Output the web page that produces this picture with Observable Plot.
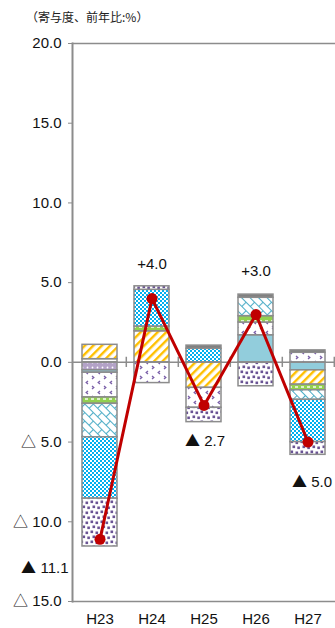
<!DOCTYPE html>
<html><head><meta charset="utf-8">
<script src="https://cdn.jsdelivr.net/npm/d3@7"></script>
<script src="https://cdn.jsdelivr.net/npm/@observablehq/plot@0.6"></script>
<style>
@font-face{font-family:"TriCJK";src:local("Noto Sans CJK JP"),local("Noto Sans CJK JP Regular"),local("NotoSansCJKjp-Regular"),local("NotoSansCJKJP-Regular");unicode-range:U+25B2-25B3;}
body{margin:0;background:#fff;}
#title{height:30px;box-sizing:border-box;padding:10px 0 0 26px;font-size:12px;line-height:14px;font-family:"Noto Sans CJK JP",sans-serif;color:#222;white-space:nowrap}
</style></head><body>
<div id="title">（寄与度、前年比:%）</div>
<div id="chart"></div>
<script>
// ---- data ----
const years = ["H23", "H24", "H25", "H26", "H27"];
// stacked contributions, in stacking order
const pinkDots     = [0.2,   0,    0,     0,    0];
const lavender     = [-0.5,  0,    0,     0,    0];
const lightBlue    = [-0.15, 0,    0,     1.7, -0.5];
const yellowStripe = [0.9,   1.95, -1.6,  0,   -0.9];
const chevrons     = [-1.55, -1.3, -1.25, 0.8,  0.6];
const greenDash    = [-0.4,  0.3,  0,     0.4, -0.35];
const tealBrick    = [-2.1,  0,    0,     1.15,-0.6];
const cyanCheck    = [-3.85, 2.3,  0.85,  0,   -2.65];
const purpleSquare = [-3.0,  0.22, -0.9, -1.5, -0.8];
const graySolid    = [0,     0,    0.2,   0.2,  0.15];
const totals = [-11.1, 4.0, -2.7, 3.0, -5.0];
const yTicks = [20, 15, 10, 5, 0, -5, -10, -15];

const seriesList = [
  ["pink", pinkDots], ["lavender", lavender], ["lightBlue", lightBlue],
  ["yellow", yellowStripe], ["chevron", chevrons], ["green", greenDash],
  ["teal", tealBrick], ["cyan", cyanCheck], ["purple", purpleSquare], ["gray", graySolid]
];
const rows = [];
for (const [key, vals] of seriesList) vals.forEach((v, i) => { if (v !== 0) rows.push({key, year: years[i], value: v}); });
const lineRows = years.map((year, i) => ({year, value: totals[i]}));

// ---- styling ----
const keys = seriesList.map(d => d[0]);
const fills = keys.map(k => `url(#pat-${k})`);
const W = 335, ML = 72, MR = 0;
const halfStep = (W - ML - MR) / years.length / 2;
const labelText = v => v < 0 ? "▲ " + Math.abs(v).toFixed(1) : "+" + v.toFixed(1);
const labelShift = [[-55, 29], [0, -34], [1, 36], [0, -43], [4, 40]];
const fontFam = '"TriCJK","Liberation Sans","Noto Sans CJK JP",sans-serif';

const svg = Plot.plot({
  width: W, height: 598,
  marginLeft: ML, marginRight: MR, marginTop: 13, marginBottom: 27,
  style: {fontFamily: fontFam, fontSize: "15px", color: "#111", background: "#fff"},
  x: {domain: years, paddingInner: 0.33, paddingOuter: 0.165},
  y: {domain: [-15, 20]},
  color: {type: "ordinal", domain: keys, range: fills},
  marks: [
    Plot.barY(rows, {x: "year", y: "value", fill: "key", stroke: "#8c8c8c", strokeWidth: 1.5}),
    Plot.ruleY([20, -15], {stroke: "#8c8c8c", strokeWidth: 1.5}),
    Plot.ruleY([0], {stroke: "#8c8c8c", strokeWidth: 1.5}),
    Plot.ruleX(years, {x: d => d, dx: halfStep, y1: -0.32, y2: 0.32, stroke: "#8c8c8c", strokeWidth: 1.5}),
    Plot.frame({anchor: "left", stroke: "#8c8c8c", strokeWidth: 2}),
    Plot.axisY({ticks: yTicks, tickFormat: d => d < 0 ? "△ " + Math.abs(d).toFixed(1) : d.toFixed(1),
      tickSize: 4, tickPadding: 7, stroke: "#8c8c8c", fontSize: 15, label: null}),
    Plot.axisX({tickSize: 0, tickPadding: 12, fontSize: 15, label: null}),
    Plot.line(lineRows, {x: "year", y: "value", stroke: "#c00000", strokeWidth: 3}),
    Plot.dot(lineRows, {x: "year", y: "value", r: 5.5, fill: "#c00000", stroke: "none"}),
    ...years.map((yr, i) => Plot.text([lineRows[i]], {x: "year", y: "value", text: d => labelText(d.value),
      dx: labelShift[i][0], dy: labelShift[i][1], fontSize: 15, fill: "#111"}))
  ]
});

const defs = document.createElementNS("http://www.w3.org/2000/svg", "defs");
defs.innerHTML = `
<pattern id="pat-yellow" width="6" height="6" patternUnits="userSpaceOnUse" patternTransform="rotate(45)">
  <rect width="6" height="6" fill="#fff"/><rect width="2.4" height="6" fill="#ffc000"/></pattern>
<pattern id="pat-cyan" width="4" height="4" patternUnits="userSpaceOnUse">
  <rect width="4" height="4" fill="#00b0f0"/><rect x="0" y="0" width="2" height="2" fill="#fff"/><rect x="2" y="2" width="2" height="2" fill="#fff"/></pattern>
<pattern id="pat-teal" width="12" height="12" patternUnits="userSpaceOnUse" patternTransform="rotate(45)">
  <rect width="12" height="12" fill="#fff"/>
  <path d="M0,0.5H12M0,6.5H12M0.5,0V6.5M6.5,6.5V12" stroke="#4bacc6" stroke-width="1.1" fill="none"/></pattern>
<pattern id="pat-green" width="6" height="6" patternUnits="userSpaceOnUse">
  <rect width="6" height="6" fill="#92d050"/><rect x="1" y="2.3" width="3" height="1.4" fill="#fff"/></pattern>
<pattern id="pat-chevron" width="12" height="10" patternUnits="userSpaceOnUse">
  <rect width="12" height="10" fill="#fff"/>
  <path d="M4,1 L2.2,2.5 L4,4 M8,6 L9.8,7.5 L8,9" stroke="#7a5fa8" stroke-width="1.3" fill="none"/></pattern>
<pattern id="pat-lavender" width="5" height="5" patternUnits="userSpaceOnUse">
  <rect width="5" height="5" fill="#b3a2c7"/><circle cx="2.5" cy="2.5" r="0.9" fill="#fff"/></pattern>
<pattern id="pat-pink" width="7" height="5" patternUnits="userSpaceOnUse">
  <rect width="7" height="5" fill="#fff"/><circle cx="3.5" cy="2.5" r="1.1" fill="#ff4fa0"/></pattern>
<pattern id="pat-lightBlue" width="4" height="4" patternUnits="userSpaceOnUse">
  <rect width="4" height="4" fill="#92cddc"/></pattern>
<pattern id="pat-purple" width="10" height="10" patternUnits="userSpaceOnUse">
  <rect width="10" height="10" fill="#fff"/>
  <rect x="0.5" y="0.5" width="2.6" height="2.6" fill="#6a5394"/><rect x="5.5" y="1.5" width="2.6" height="2.6" fill="#6a5394"/>
  <rect x="2.5" y="5.5" width="2.6" height="2.6" fill="#6a5394"/><rect x="7.3" y="6.5" width="2.6" height="2.6" fill="#6a5394"/></pattern>
<pattern id="pat-gray" width="4" height="4" patternUnits="userSpaceOnUse">
  <rect width="4" height="4" fill="#808080"/></pattern>`;
svg.insertBefore(defs, svg.firstChild);
document.getElementById("chart").appendChild(svg);
</script>
</body></html>
